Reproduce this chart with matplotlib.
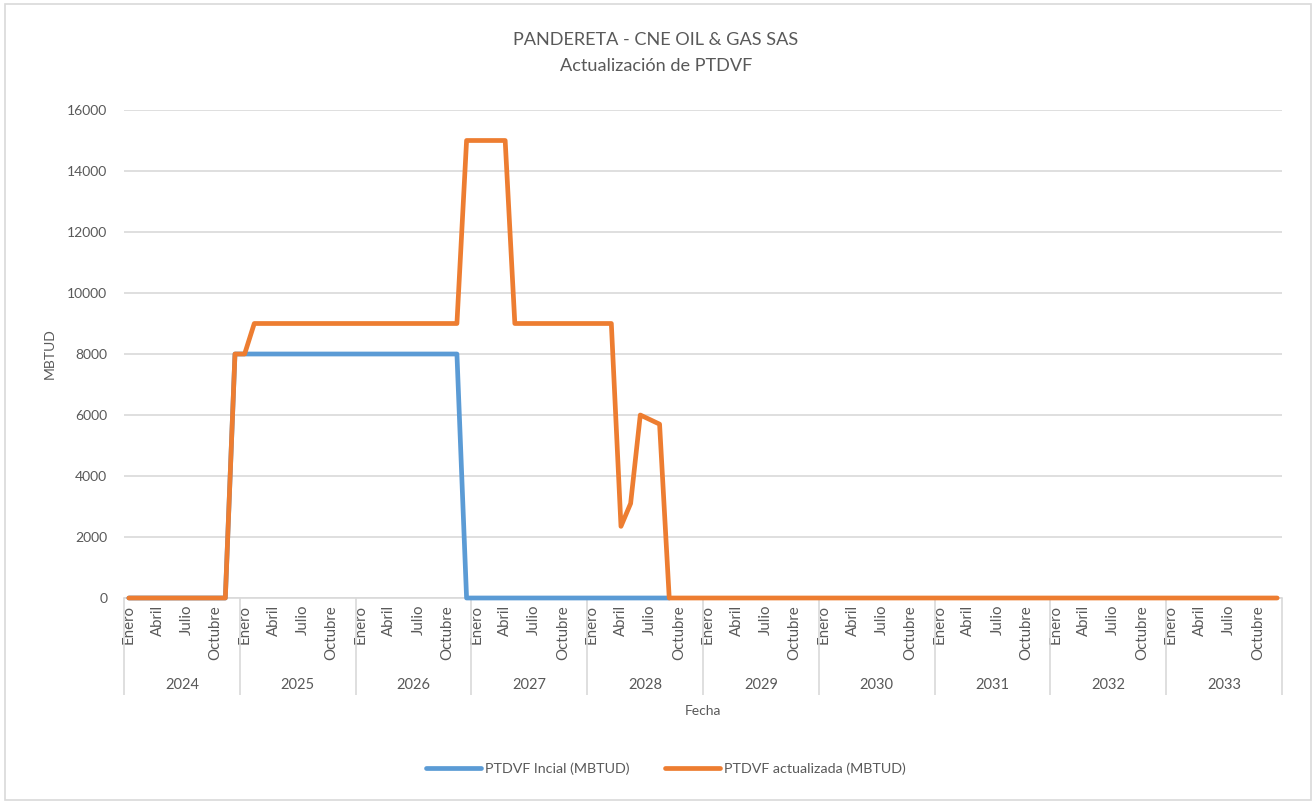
import numpy as np
import matplotlib.pyplot as plt
from matplotlib.patches import Rectangle

# data (monthly, Jan 2024 .. Dec 2033)
years = ["2024", "2025", "2026", "2027", "2028", "2029", "2030", "2031", "2032", "2033"]
month_labels = ["Enero", "Abril", "Julio", "Octubre"]
month_label_pos = [0, 3, 6, 9]

ptdvf_inicial = [0] * 11 + [8000] * 24 + [0] * 22
ptdvf_actualizada = ([0] * 11 + [8000] * 2 + [9000] * 22 + [15000] * 5 + [9000] * 11
                     + [2350, 3100, 6000, 5850, 5700] + [0] * 64)

blue = "#5B9BD5"
orange = "#ED7D31"
grey_txt = "#595959"
grid_c = "#D9D9D9"

plt.rcParams['font.family'] = ['Lato', 'DejaVu Sans']

fig = plt.figure(figsize=(13.12, 8.02), dpi=100)
ax = fig.add_axes([124 / 1312, 1 - 598 / 802, (1282 - 124) / 1312, (598 - 110) / 802])

ax.plot(np.arange(len(ptdvf_inicial)), ptdvf_inicial, color=blue, lw=3.4, clip_on=False, zorder=3,
        label="PTDVF Incial (MBTUD)", solid_joinstyle="round", solid_capstyle="round")
ax.plot(np.arange(len(ptdvf_actualizada)), ptdvf_actualizada, color=orange, lw=3.4, clip_on=False, zorder=4,
        label="PTDVF actualizada (MBTUD)", solid_joinstyle="round", solid_capstyle="round")

n = len(years) * 12
ax.set_xlim(-0.5, n - 0.5)
ax.set_ylim(0, 16000)
ax.set_yticks(np.arange(0, 16001, 2000))
ax.yaxis.grid(True, color=grid_c, lw=1.2)
ax.set_axisbelow(True)

for s in ["top", "right", "left"]:
    ax.spines[s].set_visible(False)
ax.spines["bottom"].set_color(grid_c)
ax.spines["bottom"].set_linewidth(1.2)

# month labels
pos = []
labs = []
for k in range(len(years)):
    for p, l in zip(month_label_pos, month_labels):
        pos.append(12 * k + p)
        labs.append(l)
ax.set_xticks(pos)
ax.set_xticklabels(labs, rotation=90, fontsize=10.8, color=grey_txt)
ax.tick_params(axis="x", which="major", length=0, pad=5)

# year separators
ax.set_xticks(np.arange(-0.5, n, 12), minor=True)
ax.tick_params(axis="x", which="minor", length=70, width=1.2, color=grid_c)

ax.tick_params(axis="y", length=0, pad=12, labelsize=10, labelcolor=grey_txt)

for k, y in enumerate(years):
    ax.text(12 * k + 5.5, -0.178, y, transform=ax.get_xaxis_transform(),
            ha="center", va="center", fontsize=10.5, color=grey_txt)

ax.text(0.5, -0.232, "Fecha", transform=ax.transAxes, ha="center", va="center",
        fontsize=10, color=grey_txt)
fig.text(50 / 1312, 1 - 354 / 802, "MBTUD", rotation=90, ha="center", va="center",
         fontsize=10, color=grey_txt)

fig.text(0.5, 1 - 40 / 802, "PANDERETA - CNE OIL & GAS SAS", ha="center", va="center",
         fontsize=13.1, color=grey_txt)
fig.text(0.5, 1 - 66 / 802, "Actualización de PTDVF", ha="center", va="center",
         fontsize=13.1, color=grey_txt)

fig.legend(loc="center", bbox_to_anchor=(666 / 1312, 1 - 769 / 802), ncol=2,
           frameon=False, fontsize=10.3, labelcolor=grey_txt, handlelength=3.8,
           handletextpad=0.3, columnspacing=2.5)

fig.add_artist(Rectangle((5 / 1312, 2 / 802), 1 - 6 / 1312, 1 - 6 / 802,
                         transform=fig.transFigure, fill=False, edgecolor=grid_c, lw=1.2))

plt.savefig("out.png", dpi=100)
plt.close()
